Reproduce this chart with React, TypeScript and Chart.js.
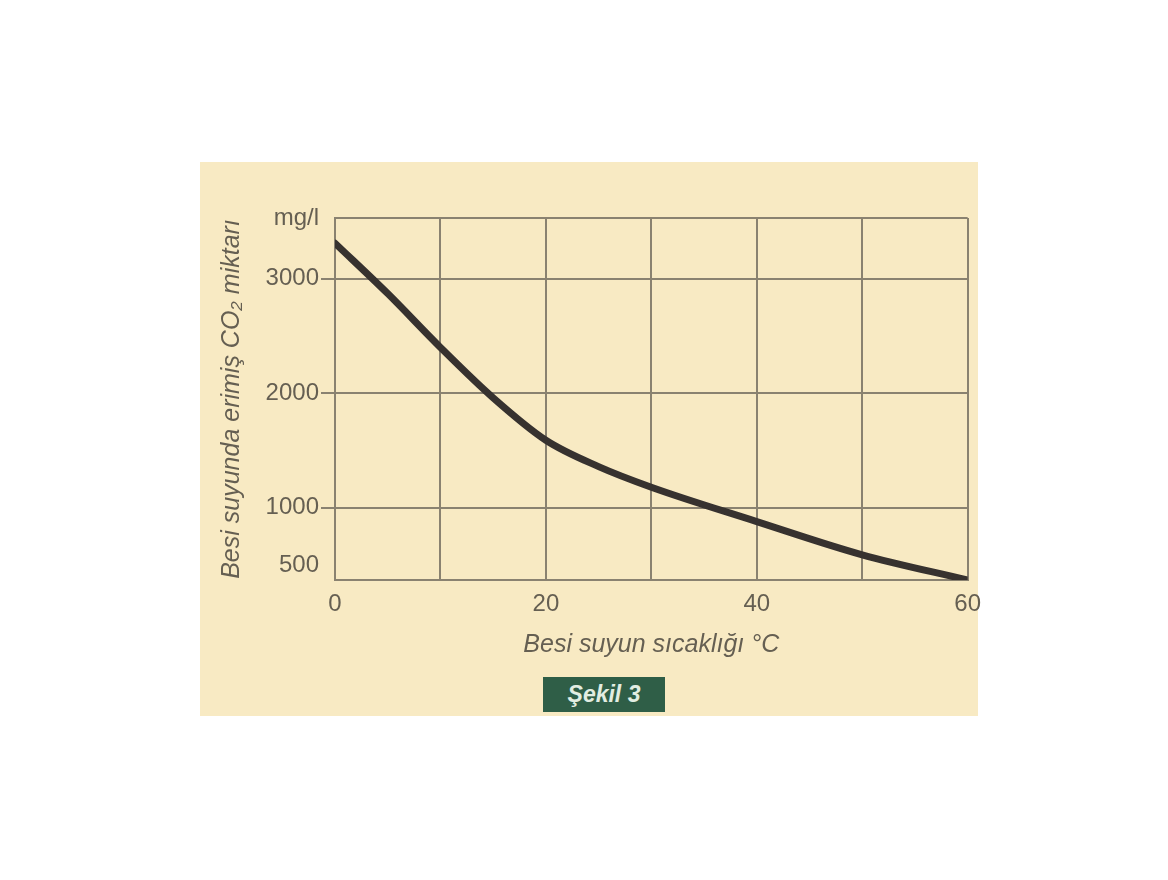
import React, { useEffect, useRef } from "react";
import { Chart, registerables } from "chart.js";

Chart.register(...registerables);

// Temperature of the nutrient solution (°C)
const TEMPS = [0, 5, 10, 15, 20, 25, 30, 40, 50, 60];
// Dissolved CO2 (mg/l)
const CO2 = [3310, 2870, 2400, 1960, 1590, 1360, 1180, 880, 590, 370];
// Y tick values and unit label
const Y_TICKS = [500, 1000, 2000, 3000];
const Y_UNIT = "mg/l";
const Y_MIN = 370;
const Y_MAX = 3530;
// X axis
const X_MIN = 0;
const X_MAX = 60;
const X_STEP = 10;
const X_LABELED = [0, 20, 40, 60];

const X_TITLE = "Besi suyun sıcaklığı °C";
const Y_TITLE = "Besi suyunda erimiş CO₂ miktarı";
const FIGURE_LABEL = "Şekil 3";

const PANEL_BG = "#f8eac3";
const GRID = "#8a8270";
const TEXT = "#655f52";
const CURVE = "#37322f";
const FONT = "'Liberation Sans', Arial, sans-serif";

export default function App() {
  const ref = useRef<HTMLCanvasElement | null>(null);

  useEffect(() => {
    if (!ref.current) return;
    const chart = new Chart(ref.current, {
      type: "line",
      data: {
        datasets: [
          {
            data: TEMPS.map((t, i) => ({ x: t, y: CO2[i] })),
            borderColor: CURVE,
            borderWidth: 7,
            borderCapStyle: "round",
            borderJoinStyle: "round",
            pointRadius: 0,
            cubicInterpolationMode: "monotone",
            fill: false,
          },
        ],
      },
      options: {
        animation: false,
        responsive: false,
        maintainAspectRatio: false,
        layout: { padding: { left: 0, top: 56, right: 0, bottom: 40 } },
        plugins: {
          legend: { display: false },
          tooltip: { enabled: false },
        },
        scales: {
          x: {
            type: "linear",
            min: X_MIN,
            max: X_MAX,
            afterFit: (s: any) => {
              s.height = 96;
            },
            afterBuildTicks: (s: any) => {
              const t: any[] = [];
              for (let v = X_MIN; v <= X_MAX; v += X_STEP) t.push({ value: v });
              s.ticks = t;
            },
            ticks: {
              autoSkip: false,
              maxRotation: 0,
              padding: 10,
              color: TEXT,
              font: { family: FONT, size: 24 },
              callback: (v: any) => (X_LABELED.includes(Number(v)) ? String(v) : ""),
            },
            grid: {
              color: GRID,
              lineWidth: 2,
              drawTicks: false,
            },
            border: { color: GRID, width: 2 },
            title: {
              display: true,
              text: X_TITLE,
              color: TEXT,
              font: { family: FONT, size: 25, style: "italic" },
              padding: { top: 0, bottom: 16 },
            },
          },
          y: {
            type: "linear",
            min: Y_MIN,
            max: Y_MAX,
            afterFit: (s: any) => {
              s.width = 135;
            },
            afterBuildTicks: (s: any) => {
              s.ticks = [...Y_TICKS, Y_MAX].map((v) => ({ value: v }));
            },
            ticks: {
              autoSkip: false,
              padding: 2,
              color: TEXT,
              font: { family: FONT, size: 24 },
              callback: (v: any) => (Number(v) === Y_MAX ? Y_UNIT : String(v)),
            },
            grid: {
              color: (c: any) => (c.tick && c.tick.value === 500 ? "rgba(0,0,0,0)" : GRID),
              tickColor: (c: any) =>
                c.tick && (c.tick.value === 500 || c.tick.value === Y_MAX) ? "rgba(0,0,0,0)" : GRID,
              lineWidth: 2,
              tickLength: 14,
            },
            border: { color: GRID, width: 2 },
            title: {
              display: true,
              text: Y_TITLE,
              color: TEXT,
              font: { family: FONT, size: 25, style: "italic" },
              padding: { top: 17, bottom: 0 },
            },
          },
        },
      },
    });
    return () => chart.destroy();
  }, []);

  return (
    <div
      style={{
        position: "fixed",
        left: 0,
        top: 0,
        width: 1168,
        height: 880,
        background: "#ffffff",
      }}
    >
      <div
        style={{
          position: "absolute",
          left: 200,
          top: 162,
          width: 778,
          height: 554,
          background: PANEL_BG,
        }}
      >
        <canvas
          ref={ref}
          width={791}
          height={554}
          style={{ display: "block", position: "absolute", left: 0, top: 0 }}
        />
        <div
          style={{
            position: "absolute",
            left: 343,
            top: 515,
            width: 122,
            height: 35,
            background: "#2f5e47",
            color: "#e2ede2",
            fontFamily: FONT,
            fontSize: 23,
            fontWeight: "bold",
            fontStyle: "italic",
            lineHeight: "35px",
            textAlign: "center",
          }}
        >
          {FIGURE_LABEL}
        </div>
      </div>
    </div>
  );
}
